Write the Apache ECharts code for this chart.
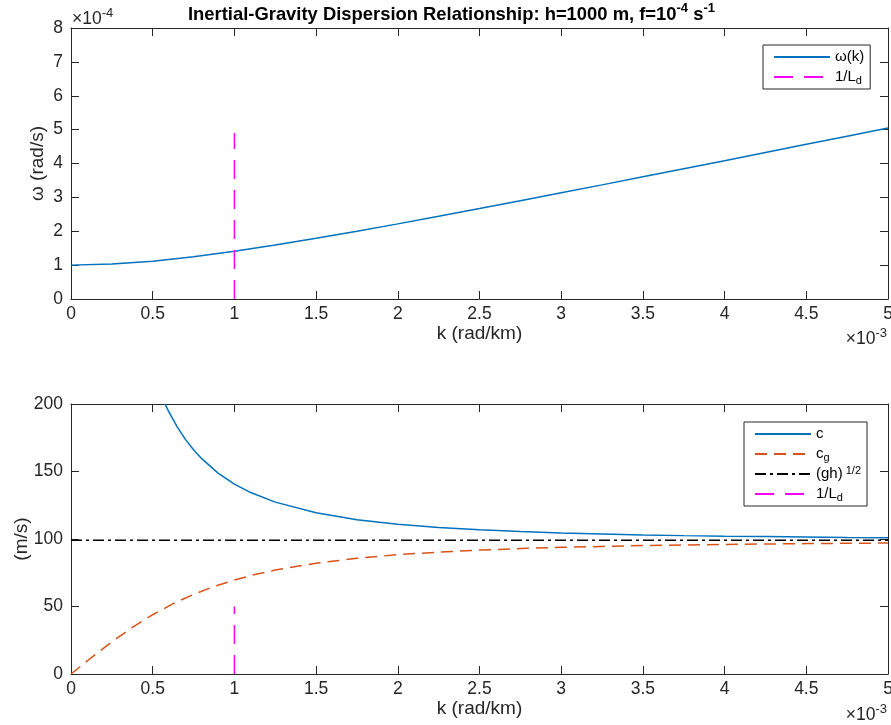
<!DOCTYPE html>
<html>
<head>
<meta charset="utf-8">
<script src="https://cdn.jsdelivr.net/npm/echarts@6/dist/echarts.min.js"></script>
<style>
html,body{margin:0;padding:0;background:#fff;}
#chart{width:891px;height:725px;}
</style>
</head>
<body>
<div id="chart"></div>
<script>
// ---- data ----
// k axis in units of 1e-3 rad/km
const kTicksX = [0, 0.5, 1, 1.5, 2, 2.5, 3, 3.5, 4, 4.5, 5];
const kOmega = [0, 0.25, 0.5, 0.75, 1, 1.25, 1.5, 1.75, 2, 2.25, 2.5, 2.75, 3, 3.25, 3.5, 3.75, 4, 4.25, 4.5, 4.75, 5];
// omega in units of 1e-4 rad/s
const omegaVals = [1.00, 1.03, 1.116, 1.246, 1.407, 1.591, 1.790, 2.000, 2.218, 2.442, 2.669, 2.900, 3.134, 3.369, 3.606, 3.845, 4.084, 4.325, 4.566, 4.807, 5.050];
const kPhase = [0.575, 0.6, 0.65, 0.7, 0.75, 0.8, 0.9, 1.0, 1.1, 1.25, 1.5, 1.75, 2, 2.25, 2.5, 2.75, 3, 3.25, 3.5, 3.75, 4, 4.25, 4.5, 4.75, 5];
const cVals = [200.1, 193.9, 183.0, 173.8, 166.1, 159.5, 148.8, 140.7, 134.4, 127.3, 119.4, 114.3, 110.9, 108.5, 106.8, 105.5, 104.5, 103.7, 103.0, 102.5, 102.1, 101.8, 101.5, 101.2, 101.0];
const kGroup = [0, 0.125, 0.25, 0.375, 0.5, 0.625, 0.75, 0.875, 1, 1.125, 1.25, 1.5, 1.75, 2, 2.25, 2.5, 2.75, 3, 3.25, 3.5, 3.75, 4, 4.25, 4.5, 4.75, 5];
const cgVals = [0, 12.2, 23.8, 34.5, 43.9, 52.1, 59.0, 64.8, 69.6, 73.7, 77.0, 82.1, 85.7, 88.4, 90.3, 91.8, 92.9, 93.8, 94.5, 95.1, 95.6, 96.0, 96.3, 96.6, 96.8, 97.0];
const ghK = [0, 5];
const ghVal = 99.0;
const ldK = 1;
const ldOmegaRange = [0, 4.9];
const ldSpeedRange = [0, 50];
const omegaTicks = [0, 1, 2, 3, 4, 5, 6, 7, 8];
const speedTicks = [0, 50, 100, 150, 200];

const pairs = (xs, ys) => xs.map((x, i) => [x, ys[i]]);

const AX = '#262626';
const FONT = 'Liberation Sans, Arial, Helvetica, sans-serif';
const tickFs = 17.5;

function xAx(grid, pos, showLabels, name) {
  return {
    type: 'value', gridIndex: grid, position: pos,
    min: kTicksX[0], max: kTicksX[kTicksX.length - 1], interval: kTicksX[1] - kTicksX[0],
    axisLine: {show: true, onZero: false, lineStyle: {color: AX, width: 1}},
    axisTick: {show: true, inside: true, length: 8, lineStyle: {color: AX}},
    axisLabel: {show: showLabels, margin: 6, color: AX, fontSize: tickFs, fontFamily: FONT},
    splitLine: {show: false},
    name: name || '', nameLocation: 'middle', nameGap: 25, nameMoveOverlap: false,
    nameTextStyle: {color: AX, fontSize: 19, fontFamily: FONT}
  };
}
function yAx(grid, pos, showLabels, ticks, name, gap) {
  return {
    type: 'value', gridIndex: grid, position: pos,
    min: ticks[0], max: ticks[ticks.length - 1], interval: ticks[1] - ticks[0],
    axisLine: {show: true, onZero: false, lineStyle: {color: AX, width: 1}},
    axisTick: {show: true, inside: true, length: 8, lineStyle: {color: AX}},
    axisLabel: {show: showLabels, margin: 8, color: AX, fontSize: tickFs, fontFamily: FONT},
    splitLine: {show: false},
    name: name || '', nameLocation: 'middle', nameGap: gap || 0, nameRotate: 90, nameMoveOverlap: false,
    nameTextStyle: {color: AX, fontSize: 19, fontFamily: FONT}
  };
}

const richSS = {
  sub: {fontSize: 11, verticalAlign: 'bottom', lineHeight: 11, fontFamily: FONT, color: '#000'},
  sup: {fontSize: 11, verticalAlign: 'top', lineHeight: 11, fontFamily: FONT, color: '#000'}
};
const legendNames = {
  'ω(k)': 'ω(k)',
  '1/Ld': '1/L{sub|d}',
  'c': 'c',
  'cg': 'c{sub|g}',
  '(gh)1/2': '(gh){sup| 1/2}'
};
function legendCfg(left, top, names) {
  return {
    show: true, orient: 'vertical', left: left, top: top,
    data: names, itemWidth: 56, itemHeight: 14, itemGap: 2,
    padding: [3, 6, 3, 10],
    borderColor: AX, borderWidth: 1, borderRadius: 0, backgroundColor: '#fff',
    selectedMode: false,
    itemStyle: {opacity: 0, borderWidth: 0},
    formatter: n => legendNames[n] || n,
    textStyle: {fontSize: 15, lineHeight: 18, fontFamily: FONT, color: '#000', rich: richSS}
  };
}

const supRich = (fs) => ({
  sup: {fontSize: Math.round(fs * 0.72), verticalAlign: 'top', lineHeight: 12, fontFamily: FONT, fill: AX}
});

const chart = echarts.init(document.getElementById('chart'), null, {renderer: 'canvas'});
chart.setOption({
  animation: false,
  backgroundColor: '#fff',
  title: {
    text: 'Inertial-Gravity Dispersion Relationship: h=1000 m, f=10{sup|-4} s{sup|-1}',
    left: 183, top: -3,
    textStyle: {
      fontSize: 18.4, fontWeight: 'bold', fontFamily: FONT, color: '#000', lineHeight: 26,
      rich: {sup: {fontSize: 13, fontWeight: 'bold', verticalAlign: 'top', lineHeight: 13, fontFamily: FONT, color: '#000'}}
    }
  },
  grid: [
    {left: 71, top: 28, width: 817, height: 271, containLabel: false, outerBoundsMode: 'none'},
    {left: 71, top: 404, width: 817, height: 270, containLabel: false, outerBoundsMode: 'none'}
  ],
  xAxis: [
    xAx(0, 'bottom', true, 'k (rad/km)'),
    xAx(0, 'top', false),
    xAx(1, 'bottom', true, 'k (rad/km)'),
    xAx(1, 'top', false)
  ],
  yAxis: [
    yAx(0, 'left', true, omegaTicks, 'ω (rad/s)', 24),
    yAx(0, 'right', false, omegaTicks),
    yAx(1, 'left', true, speedTicks, '(m/s)', 40),
    yAx(1, 'right', false, speedTicks)
  ],
  legend: [
    legendCfg(763, 45, ['ω(k)', '1/Ld']),
    legendCfg(744, 422, ['c', 'cg', '(gh)1/2', '1/Ld'])
  ],
  graphic: [
    {type: 'text', left: 72, top: 7, style: {text: '×10{sup|-4}', font: tickFs + 'px ' + FONT, fill: AX, lineHeight: 24, rich: supRich(tickFs)}},
    {type: 'text', right: 4, top: 327, style: {text: '×10{sup|-3}', font: tickFs + 'px ' + FONT, fill: AX, lineHeight: 24, rich: supRich(tickFs)}},
    {type: 'text', right: 4, top: 703, style: {text: '×10{sup|-3}', font: tickFs + 'px ' + FONT, fill: AX, lineHeight: 24, rich: supRich(tickFs)}}
  ],
  series: [
    {name: 'ω(k)', type: 'line', xAxisIndex: 0, yAxisIndex: 0, data: pairs(kOmega, omegaVals),
     showSymbol: false, symbol: 'none', smooth: false, color: '#0072BD',
     lineStyle: {color: '#0072BD', width: 1.5}},
    {name: '1/Ld', type: 'line', xAxisIndex: 0, yAxisIndex: 0, data: ldOmegaRange.map(v => [ldK, v]),
     showSymbol: false, symbol: 'none', color: '#FF00FF',
     lineStyle: {color: '#FF00FF', width: 1.5, type: [19, 11]}},
    {name: 'c', type: 'line', xAxisIndex: 2, yAxisIndex: 2, data: pairs(kPhase, cVals),
     showSymbol: false, symbol: 'none', smooth: false, color: '#0072BD', clip: true,
     lineStyle: {color: '#0072BD', width: 1.5}},
    {name: 'cg', type: 'line', xAxisIndex: 2, yAxisIndex: 2, data: pairs(kGroup, cgVals),
     showSymbol: false, symbol: 'none', smooth: false, color: '#D95319',
     lineStyle: {color: '#D95319', width: 1.5, type: [12, 7]}},
    {name: '(gh)1/2', type: 'line', xAxisIndex: 2, yAxisIndex: 2, data: ghK.map(k => [k, ghVal]),
     showSymbol: false, symbol: 'none', color: '#000000',
     lineStyle: {color: '#000000', width: 1.5, type: [11, 4, 3, 4]}},
    {name: '1/Ld', type: 'line', xAxisIndex: 2, yAxisIndex: 2, data: ldSpeedRange.map(v => [ldK, v]),
     showSymbol: false, symbol: 'none', color: '#FF00FF',
     lineStyle: {color: '#FF00FF', width: 1.5, type: [19, 11]}}
  ]
});
</script>
</body>
</html>
